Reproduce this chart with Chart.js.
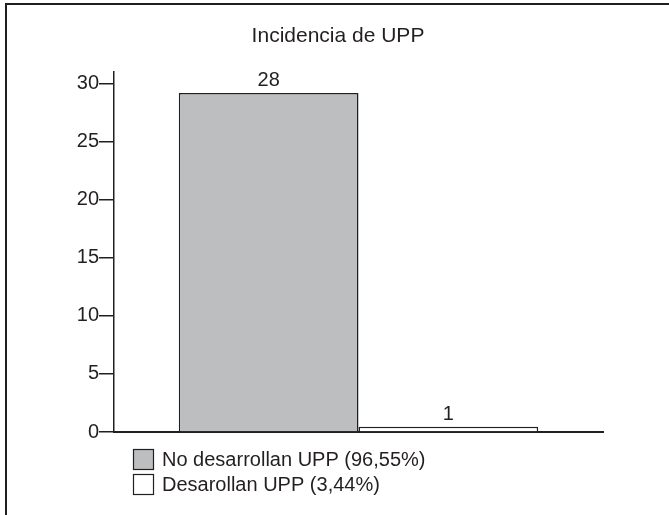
<!DOCTYPE html>
<html>
<head>
<meta charset="utf-8">
<script src="https://cdn.jsdelivr.net/npm/chart.js@4/dist/chart.umd.min.js"></script>
<style>
  html, body { margin: 0; padding: 0; background: #fff; }
  .frame {
    position: absolute; left: 5px; top: 3px; width: 670px; height: 520px;
    border-top: 2px solid #231f20; border-left: 2px solid #231f20;
  }
  .chart-container { position: absolute; left: 0; top: 0; width: 669px; height: 515px; }
</style>
</head>
<body>
<div class="frame"></div>
<div class="chart-container"><canvas id="chart" width="669" height="515"></canvas></div>
<script>
// datos
const chartTitle = 'Incidencia de UPP';
const categories = [''];
const seriesNames = ['No desarrollan UPP (96,55%)', 'Desarollan UPP (3,44%)'];
const seriesValues = [29.2, 0.45]; // altura dibujada de cada barra
const valueLabels = ['28', '1'];   // texto sobre cada barra
const seriesColors = ['#bdbec0', '#ffffff'];
const yTickValues = [0, 5, 10, 15, 20, 25, 30];
const yMax = 31;

const ink = '#231f20';
const fontFamily = '"Liberation Sans", Arial, Helvetica, sans-serif';

// etiquetas encima de las barras
const barLabels = {
  id: 'barLabels',
  afterDatasetsDraw(chart) {
    const ctx = chart.ctx;
    ctx.save();
    ctx.fillStyle = ink;
    ctx.font = '20px ' + fontFamily;
    ctx.textAlign = 'center';
    ctx.textBaseline = 'alphabetic';
    chart.data.datasets.forEach((ds, i) => {
      const bar = chart.getDatasetMeta(i).data[0];
      ctx.fillText(valueLabels[i], bar.x, bar.y - 7);
    });
    ctx.restore();
  }
};

// leyenda vertical abajo a la izquierda
const boxLegend = {
  id: 'boxLegend',
  afterDraw(chart) {
    const ctx = chart.ctx;
    ctx.save();
    ctx.font = '20px ' + fontFamily;
    ctx.textBaseline = 'middle';
    ctx.textAlign = 'left';
    chart.data.datasets.forEach((ds, i) => {
      const top = 449 + i * 25;
      ctx.fillStyle = ds.backgroundColor;
      ctx.fillRect(133, top, 20, 20);
      ctx.strokeStyle = ink;
      ctx.lineWidth = 1.2;
      ctx.strokeRect(133.5, top + 0.5, 20, 20);
      ctx.fillStyle = ink;
      ctx.fillText(ds.label, 162, top + 11);
    });
    ctx.restore();
  }
};

const datasets = seriesNames.map((name, i) => ({
  label: name,
  data: [seriesValues[i]],
  backgroundColor: seriesColors[i],
  borderColor: ink,
  borderWidth: 1.5,
  borderSkipped: 'bottom',
  barPercentage: 1,
  categoryPercentage: 0.735,
}));

new Chart(document.getElementById('chart').getContext('2d'), {
  type: 'bar',
  data: { labels: categories, datasets },
  plugins: [barLabels, boxLegend],
  options: {
    responsive: false,
    animation: false,
    layout: { padding: { top: 0, left: 7, right: 0, bottom: 83 } },
    plugins: {
      legend: { display: false },
      tooltip: { enabled: false },
      title: {
        display: true,
        text: chartTitle,
        color: ink,
        font: { family: fontFamily, size: 21, weight: 'normal' },
        padding: { top: 24, bottom: 23 },
      },
    },
    scales: {
      x: {
        grid: { display: true, drawOnChartArea: false, drawTicks: false },
        border: { display: true, color: ink, width: 2 },
        ticks: { display: false },
      },
      y: {
        min: 0,
        max: yMax,
        afterBuildTicks(axis) {
          axis.ticks = yTickValues.map(v => ({ value: v }));
        },
        afterFit(axis) { axis.width = 107; },
        grid: { drawOnChartArea: false, drawTicks: true, tickLength: 15, color: ink, lineWidth: 1.5 },
        border: { display: true, color: ink, width: 1.5 },
        ticks: {
          padding: 0,
          color: ink,
          font: { family: fontFamily, size: 20 },
        },
      },
      // eje vacio a la derecha para dejar el margen
      yRight: {
        position: 'right',
        display: true,
        afterFit(axis) { axis.width = 66; },
        grid: { display: false },
        border: { display: false },
        ticks: { display: false },
      },
    },
  },
});
</script>
</body>
</html>
